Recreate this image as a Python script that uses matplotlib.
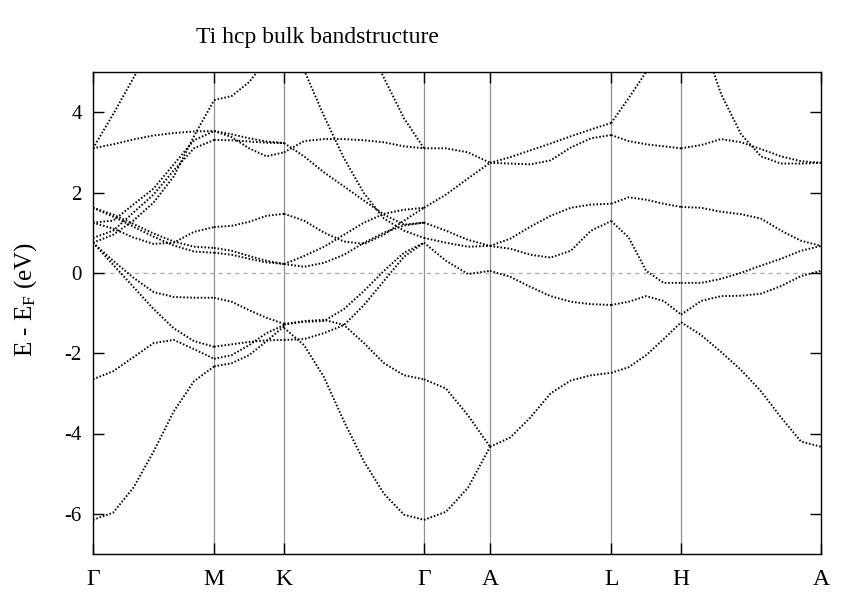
import numpy as np
import matplotlib
matplotlib.use("Agg")
import matplotlib.pyplot as plt

plt.rcParams['font.family'] = ['Liberation Serif', 'DejaVu Serif']
plt.rcParams['mathtext.fontset'] = 'custom'
plt.rcParams['mathtext.rm'] = 'Liberation Serif'
plt.rcParams['mathtext.it'] = 'Liberation Serif:italic'
plt.rcParams['axes.unicode_minus'] = False

nan = np.nan

# path through the hcp Brillouin zone (lengths in 2pi/a)
c_over_a = 1.587
labels = ['Γ', 'M', 'K', 'Γ', 'A', 'L', 'H', 'A']
seg_len = [1/np.sqrt(3), 1/3, 2/3, 1/(2*c_over_a), 1/np.sqrt(3), 1/3, 2/3]

# bands per segment, energies (eV) at evenly spaced k along the segment
bands_GM = [
    [-6.15, -5.97, -5.35, -4.45, -3.45, -2.7, -2.33],
    [-2.65, -2.45, -2.1, -1.75, -1.67, -1.9, -2.14],
    [0.75, 0.2, -0.35, -0.9, -1.38, -1.7, -1.84],
    [0.75, 0.3, -0.12, -0.48, -0.6, -0.62, -0.62],
    [1.62, 1.45, 1.22, 0.98, 0.78, 0.65, 0.62],
    [1.62, 1.4, 1.15, 0.9, 0.68, 0.53, 0.5],
    [1.25, 1.1, 0.88, 0.72, 0.75, 1.02, 1.14],
    [1.25, 1.3, 1.7, 2.1, 2.7, 3.3, 3.53],
    [0.87, 1.05, 1.5, 1.95, 2.55, 3.1, 3.31],
    [0.75, 0.95, 1.3, 1.75, 2.4, 3.4, 4.3],
    [3.1, 3.2, 3.32, 3.42, 3.48, 3.52, 3.53],
    [3.1, 3.95, 4.85, 5.7, nan, nan, nan],
]
bands_MK = [
    [-2.33, -2.25, -2.05, -1.7, -1.33],
    [-2.14, -2.05, -1.8, -1.5, -1.3],
    [-1.84, -1.78, -1.72, -1.68, -1.67],
    [-0.62, -0.72, -0.93, -1.12, -1.27],
    [0.62, 0.55, 0.42, 0.3, 0.22],
    [0.5, 0.45, 0.35, 0.26, 0.22],
    [1.14, 1.17, 1.27, 1.42, 1.47],
    [3.31, 3.3, 3.27, 3.24, 3.23],
    [3.53, 3.45, 3.35, 3.27, 3.23],
    [3.53, 3.38, 3.1, 2.9, 3.0],
    [4.3, 4.4, 4.75, 5.3, nan],
]
bands_KG = [
    [-1.37, -1.8, -2.6, -3.7, -4.7, -5.5, -6.02, -6.15],
    [-1.29, -1.2, -1.17, -1.3, -1.75, -2.25, -2.55, -2.65],
    [-1.67, -1.65, -1.5, -1.3, -0.8, -0.2, 0.4, 0.75],
    [-1.27, -1.22, -1.2, -0.9, -0.45, 0.05, 0.5, 0.75],
    [1.47, 1.3, 1.0, 0.78, 0.72, 0.95, 1.3, 1.62],
    [0.22, 0.42, 0.65, 0.95, 1.25, 1.47, 1.57, 1.62],
    [0.22, 0.15, 0.25, 0.45, 0.75, 1.0, 1.18, 1.25],
    [nan, 5.05, 3.9, 2.85, 1.98, 1.35, 1.05, 0.87],
    [3.23, 2.9, 2.5, 2.15, 1.8, 1.45, 1.2, 1.25],
    [3.0, 3.28, 3.33, 3.33, 3.3, 3.25, 3.15, 3.1],
    [nan, nan, nan, nan, 5.9, 4.85, 3.85, 3.1],
]
bands_GA = [
    [-6.15, -5.95, -5.35, -4.33],
    [-2.65, -2.88, -3.55, -4.33],
    [0.75, 0.3, -0.03, 0.05],
    [0.87, 0.75, 0.65, 0.67],
    [1.25, 1.05, 0.82, 0.67],
    [1.62, 1.95, 2.35, 2.74],
    [3.1, 3.1, 3.0, 2.74],
]
bands_AL = [
    [2.74, 2.88, 3.05, 3.22, 3.4, 3.57, 3.73],
    [2.74, 2.72, 2.7, 2.8, 3.12, 3.35, 3.43],
    [0.67, 0.85, 1.15, 1.42, 1.62, 1.7, 1.72],
    [0.67, 0.6, 0.45, 0.38, 0.55, 1.05, 1.29],
    [0.05, -0.1, -0.35, -0.58, -0.72, -0.78, -0.8],
    [-4.33, -4.1, -3.6, -3.0, -2.68, -2.55, -2.49],
]
bands_LH = [
    [3.73, 4.35, 5.0, 5.9, nan],
    [3.43, 3.28, 3.2, 3.15, 3.1],
    [1.72, 1.88, 1.82, 1.72, 1.64],
    [1.29, 0.88, 0.05, -0.25, -0.25],
    [-0.8, -0.72, -0.58, -0.7, -1.04],
    [-2.49, -2.35, -2.05, -1.65, -1.23],
]
bands_HA = [
    [nan, 5.9, 4.45, 3.45, 2.9, 2.72, 2.72, 2.74],
    [3.1, 3.18, 3.33, 3.25, 3.08, 2.9, 2.78, 2.74],
    [1.64, 1.62, 1.52, 1.46, 1.35, 1.05, 0.8, 0.67],
    [-0.25, -0.25, -0.15, 0.0, 0.18, 0.35, 0.55, 0.67],
    [-1.04, -0.7, -0.58, -0.57, -0.52, -0.33, -0.08, 0.05],
    [-1.23, -1.55, -1.97, -2.42, -2.95, -3.6, -4.2, -4.33],
]
segments = [bands_GM, bands_MK, bands_KG, bands_GA, bands_AL, bands_LH, bands_HA]

yticks = [-6, -4, -2, 0, 2, 4]

kpts = np.concatenate([[0], np.cumsum(seg_len)])

fig = plt.figure(figsize=(8.61, 6.03), dpi=100)
ax = fig.add_axes([93/861, 1-554/603, 728/861, 482/603])

for x in kpts[1:-1]:
    ax.axvline(x, color='#909090', lw=0.9, zorder=1)
ax.axhline(0, color='#b0b0b0', lw=1.0, ls=(0, (3, 3)), zorder=1)

for i, seg in enumerate(segments):
    for band in seg:
        k = np.linspace(kpts[i], kpts[i+1], len(band))
        ax.plot(k, band, color='black', lw=1.4, ls=(0, (0.8, 1.0)), zorder=2)

ax.set_xlim(kpts[0], kpts[-1])
ax.set_ylim(-7, 5)
ax.set_xticks(kpts)
ax.set_xticklabels(labels)
ax.set_yticks(yticks)
ax.tick_params(direction='in', top=True, right=True, length=8, width=1)
ax.tick_params(axis='y', labelsize=15, pad=8)
ax.tick_params(axis='x', labelsize=17, pad=11)
for s in ax.spines.values():
    s.set_linewidth(1.0)

fig.text(317/861, 1-38/603, 'Ti hcp bulk bandstructure', ha='center',
         va='center', fontsize=17)
fig.text(26/861, 1-300/603, 'E - E$_{\\rm F}$ (eV)', ha='center', va='center',
         rotation=90, fontsize=18)

fig.savefig('out.png', dpi=100)
